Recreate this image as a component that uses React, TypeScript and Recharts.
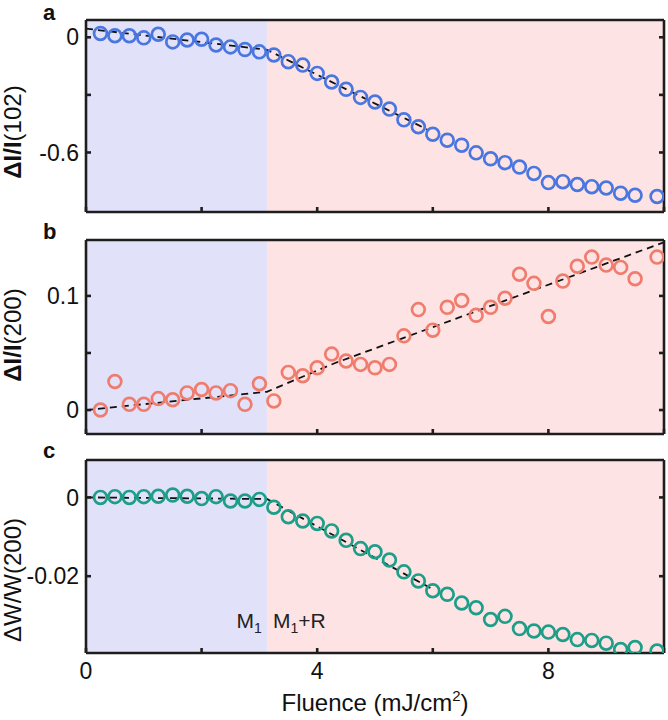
import React from 'react';
import { ComposedChart, Scatter, Line, XAxis, YAxis, ReferenceArea } from 'recharts';

// fluence values (mJ/cm^2) shared by all three panels
const fluence = [
  0.25, 0.5, 0.75, 1.0, 1.25, 1.5, 1.75, 2.0, 2.25, 2.5, 2.75, 3.0, 3.25,
  3.5, 3.75, 4.0, 4.25, 4.5, 4.75, 5.0, 5.25, 5.5, 5.75, 6.0, 6.25, 6.5,
  6.75, 7.0, 7.25, 7.5, 7.75, 8.0, 8.25, 8.5, 8.75, 9.0, 9.25, 9.5, 9.88,
];

// a: dI/I (102)
const dI102 = [
  0.02, 0.008, 0.008, -0.003, 0.016, -0.024, -0.014, -0.01, -0.04, -0.05, -0.064, -0.076, -0.092,
  -0.127, -0.145, -0.188, -0.233, -0.271, -0.313, -0.337, -0.374, -0.43, -0.466, -0.505, -0.536, -0.562,
  -0.602, -0.633, -0.653, -0.676, -0.709, -0.757, -0.752, -0.767, -0.778, -0.785, -0.812, -0.823, -0.829,
];
const fit102X = [0, 3.13, 5.9];
const fit102Y = [0.045, -0.065, -0.48];

// b: dI/I (200)
const dI200 = [
  0.0, 0.025, 0.005, 0.005, 0.01, 0.009, 0.015, 0.018, 0.015, 0.017, 0.005, 0.023, 0.008,
  0.033, 0.03, 0.037, 0.049, 0.043, 0.04, 0.037, 0.04, 0.065, 0.088, 0.07, 0.09, 0.096,
  0.083, 0.09, 0.098, 0.119, 0.111, 0.082, 0.113, 0.126, 0.134, 0.127, 0.125, 0.115, 0.134,
];
const fit200X = [0, 3.13, 4.3, 10];
const fit200Y = [0, 0.016, 0.041, 0.147];

// c: dW/W (200)
const dW200 = [
  0.0, 0.0002, 0.0, 0.0002, 0.0003, 0.0006, 0.0003, -0.0003, 0.0002, -0.0009, -0.0009, -0.0005, -0.0025,
  -0.0049, -0.006, -0.0066, -0.0085, -0.0109, -0.013, -0.0138, -0.0159, -0.0189, -0.0212, -0.0237, -0.0246, -0.0268,
  -0.028, -0.031, -0.0302, -0.0333, -0.0339, -0.0342, -0.0348, -0.0361, -0.0363, -0.037, -0.0386, -0.0381, -0.039,
];
const fitWX = [0, 3.13, 5.96];
const fitWY = [0, -0.0004, -0.023];

const xTicks = [0, 2, 4, 6, 8, 10];
const xTickLabels = ['0', '', '4', '', '8', ''];
const M1_EDGE = 3.13;

const FONT = '"Liberation Sans", Arial, sans-serif';
const AXIS = '#1e1e1e';
const BLUE_BG = '#e1e1f9';
const PINK_BG = '#fde3e3';

const toPts = (xs: number[], ys: number[]) => xs.map((x, i) => ({ x, y: ys[i] }));

const RegionLabel = (props: any) => {
  const { viewBox, side } = props;
  if (!viewBox) return null;
  const { x, y, width, height } = viewBox;
  const by = y + height - 25;
  if (side === 'left') {
    return (
      <text x={x + width - 5} y={by} textAnchor="end" fontSize={21} fontFamily={FONT} fill="#222">
        M<tspan dy={5} fontSize={14}>1</tspan>
      </text>
    );
  }
  return (
    <text x={x + 6} y={by} textAnchor="start" fontSize={21} fontFamily={FONT} fill="#222">
      M<tspan dy={5} fontSize={14}>1</tspan>
      <tspan dy={-5}>+R</tspan>
    </text>
  );
};

interface PanelProps {
  top: number;
  height: number;
  marginTop: number;
  marginBottom: number;
  xAxisHeight: number;
  points: { x: number; y: number }[];
  fit: { x: number; y: number }[];
  color: string;
  domain: [number, number];
  yTicks: number[];
  yTickLabels: string[];
  showX: boolean;
  regionLabels?: boolean;
}

const Panel = (p: PanelProps) => {
  const lineStyle = { stroke: AXIS, strokeWidth: 2.6 };
  const tickStyle = { fontSize: 23, fill: '#111', fontFamily: FONT };
  return (
    <div style={{ position: 'absolute', left: 0, top: p.top, width: 668, height: p.height }}>
      <ComposedChart
        width={668}
        height={p.height}
        margin={{ top: p.marginTop, right: 3, bottom: p.marginBottom, left: 0 }}
      >
        <XAxis
          type="number"
          dataKey="x"
          domain={[0, 10]}
          ticks={xTicks}
          interval={0}
          allowDataOverflow
          height={p.xAxisHeight}
          tickSize={-5}
          tickMargin={15}
          tickFormatter={(v: number) => (p.showX ? xTickLabels[xTicks.indexOf(v)] : '')}
          axisLine={lineStyle}
          tickLine={lineStyle}
          tick={tickStyle}
        />
        <XAxis
          xAxisId="top"
          orientation="top"
          type="number"
          domain={[0, 10]}
          ticks={xTicks}
          interval={0}
          allowDataOverflow
          height={1}
          tickSize={-5}
          tickFormatter={() => ''}
          axisLine={lineStyle}
          tickLine={lineStyle}
        />
        <YAxis
          type="number"
          dataKey="y"
          domain={p.domain}
          ticks={p.yTicks}
          interval={0}
          allowDataOverflow
          width={86}
          tickSize={-5}
          tickMargin={12}
          tickFormatter={(v: number) => p.yTickLabels[p.yTicks.indexOf(v)] ?? ''}
          axisLine={lineStyle}
          tickLine={lineStyle}
          tick={tickStyle}
        />
        <YAxis
          yAxisId="right"
          orientation="right"
          type="number"
          domain={p.domain}
          ticks={p.yTicks}
          interval={0}
          allowDataOverflow
          width={1}
          tickSize={-5}
          tickFormatter={() => ''}
          axisLine={lineStyle}
          tickLine={lineStyle}
        />
        <ReferenceArea
          x1={0}
          x2={M1_EDGE}
          fill={BLUE_BG}
          fillOpacity={1}
          stroke="none"
          label={p.regionLabels ? <RegionLabel side="left" /> : undefined}
        />
        <ReferenceArea
          x1={M1_EDGE}
          x2={10}
          fill={PINK_BG}
          fillOpacity={1}
          stroke="none"
          label={p.regionLabels ? <RegionLabel side="right" /> : undefined}
        />
        <Line
          data={p.fit}
          dataKey="y"
          type="linear"
          stroke="#111"
          strokeWidth={1.8}
          strokeDasharray="7 5"
          dot={false}
          activeDot={false}
          isAnimationActive={false}
        />
        <Scatter
          data={p.points}
          isAnimationActive={false}
          shape={(s: any) => (
            <circle cx={s.cx} cy={s.cy} r={6.4} fill="none" stroke={p.color} strokeWidth={2.7} />
          )}
        />
      </ComposedChart>
    </div>
  );
};

const YLabel = ({ cy, bold, rest }: { cy: number; bold: string; rest: string }) => (
  <text
    x={21}
    y={cy}
    transform={`rotate(-90 21 ${cy})`}
    textAnchor="middle"
    fontSize={24}
    fontFamily={FONT}
    fill="#111"
  >
    <tspan fontWeight="bold">{bold}</tspan>
    <tspan>{rest}</tspan>
  </text>
);

export default function App() {
  return (
    <div style={{ position: 'absolute', left: 0, top: 0, width: 668, height: 720, background: '#fff' }}>
      <Panel
        top={0}
        height={230}
        marginTop={19}
        marginBottom={17}
        xAxisHeight={1}
        points={toPts(fluence, dI102)}
        fit={toPts(fit102X, fit102Y)}
        color="#4a76e0"
        domain={[-0.91, 0.09]}
        yTicks={[-0.6, -0.3, 0]}
        yTickLabels={['-0.6', '', '0']}
        showX={false}
      />
      <Panel
        top={230}
        height={230}
        marginTop={9}
        marginBottom={25}
        xAxisHeight={1}
        points={toPts(fluence, dI200)}
        fit={toPts(fit200X, fit200Y)}
        color="#f07c6e"
        domain={[-0.021, 0.149]}
        yTicks={[0, 0.05, 0.1]}
        yTickLabels={['0', '', '0.1']}
        showX={false}
      />
      <Panel
        top={450}
        height={270}
        marginTop={9}
        marginBottom={0}
        xAxisHeight={67}
        points={toPts(fluence, dW200)}
        fit={toPts(fitWX, fitWY)}
        color="#1c9e88"
        domain={[-0.0395, 0.0095]}
        yTicks={[-0.02, 0]}
        yTickLabels={['-0.02', '0']}
        showX
        regionLabels
      />
      <svg
        width={668}
        height={720}
        style={{ position: 'absolute', left: 0, top: 0, pointerEvents: 'none' }}
      >
        <g fontFamily={FONT} fontWeight="bold" fontSize={22} fill="#111">
          <text x={43} y={20}>a</text>
          <text x={43} y={239}>b</text>
          <text x={43} y={458}>c</text>
        </g>
        <YLabel cy={132} bold="ΔI/I" rest="(102)" />
        <YLabel cy={335} bold="ΔI/I" rest="(200)" />
        <text
          x={21}
          y={580}
          transform="rotate(-90 21 580)"
          textAnchor="middle"
          fontSize={24}
          fontFamily={FONT}
          fill="#111"
        >
          ΔW/W(200)
        </text>
        <text x={375} y={711} textAnchor="middle" fontSize={24} fontFamily={FONT} fill="#111">
          Fluence (mJ/cm<tspan dy={-10} fontSize={15}>2</tspan>
          <tspan dy={10}>)</tspan>
        </text>
      </svg>
    </div>
  );
}
